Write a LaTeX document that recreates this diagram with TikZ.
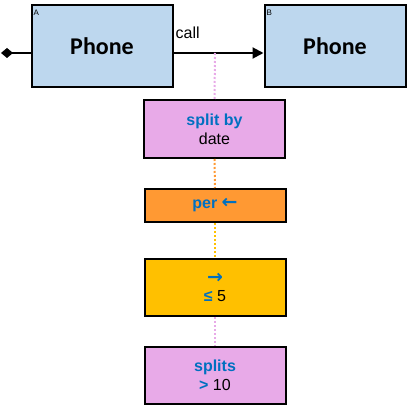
\documentclass[tikz,border=0pt]{standalone}
\usepackage{fontspec}
\setmainfont{Liberation Sans}
\newfontfamily\phonefont{Carlito}
\newfontfamily\arrowfont{DejaVu Sans}
\usetikzlibrary{arrows.meta}
\definecolor{phoneblue}{RGB}{189,215,238}
\definecolor{boxpink}{RGB}{232,170,232}
\definecolor{boxorange}{RGB}{255,153,51}
\definecolor{boxgold}{RGB}{255,192,0}
\definecolor{txtblue}{RGB}{0,112,192}
\newcommand{\arr}[1]{{\arrowfont\bfseries\fontsize{19}{19}\selectfont #1}}
\tikzset{
  phonebox/.style={draw=black, line width=2pt, fill=phoneblue, minimum width=141pt, minimum height=82pt, inner sep=0pt, font=\phonefont\bfseries\fontsize{24}{28}\selectfont},
  opbox/.style={draw=black, line width=2pt, minimum width=141pt, inner sep=0pt, align=center, font=\fontsize{16}{19}\selectfont},
  tinylabel/.style={inner sep=0pt, font=\fontsize{8}{9}\selectfont, anchor=north west},
  conn/.style={line width=2pt},
  dotconn/.style={line width=2pt, dash pattern=on 2pt off 2pt},
}
\begin{document}
\begin{tikzpicture}[x=1pt,y=-1pt]
\useasboundingbox (0,0) rectangle (408,406);
\node[phonebox] (A) at (102,46.5) {Phone};
\node[phonebox] (B) at (335,46.5) {Phone};
\node[tinylabel] (Alab) at (33.5,10) {A};
\node[tinylabel] (Blab) at (266.5,10) {B};
\coordinate (start) at (1,53);
\coordinate (tap) at (215,53);
\draw[conn, {Diamond[width=10pt,length=12pt]}-] (start) -- ([yshift=-6.5pt]A.west);
\draw[conn, -{Triangle[width=11pt,length=11pt]}] ([yshift=-6.5pt]A.east) -- ([yshift=-6.5pt]B.west);
\node[inner sep=0pt, anchor=base west, font=\fontsize{16}{19}\selectfont] (call) at (175.5,39) {call};
\node[opbox, fill=boxpink, minimum height=58pt] (split) at (214.5,129) {\textcolor{txtblue}{\bfseries split by}\\date};
\node[opbox, fill=boxorange, minimum height=33pt] (per) at (215,205.5) {\textcolor{txtblue}{\bfseries per \arr{←}}};
\node[opbox, fill=boxgold, minimum height=57pt] (lim) at (215,287.5) {\textcolor{txtblue}{\arr{→}}\\[-1pt]\textcolor{txtblue}{\bfseries ≤} 5};
\node[opbox, fill=boxpink, minimum height=57pt] (spl) at (215,375.5) {\textcolor{txtblue}{\bfseries splits}\\\textcolor{txtblue}{\bfseries >} 10};
\draw[dotconn, draw=boxpink] (tap) -- (split.north);
\draw[dotconn, draw=boxorange] (split.south) -- (per.north);
\draw[dotconn, draw=boxgold] (per.south) -- (lim.north);
\draw[dotconn, draw=boxpink] (lim.south) -- (spl.north);
\end{tikzpicture}
\end{document}
